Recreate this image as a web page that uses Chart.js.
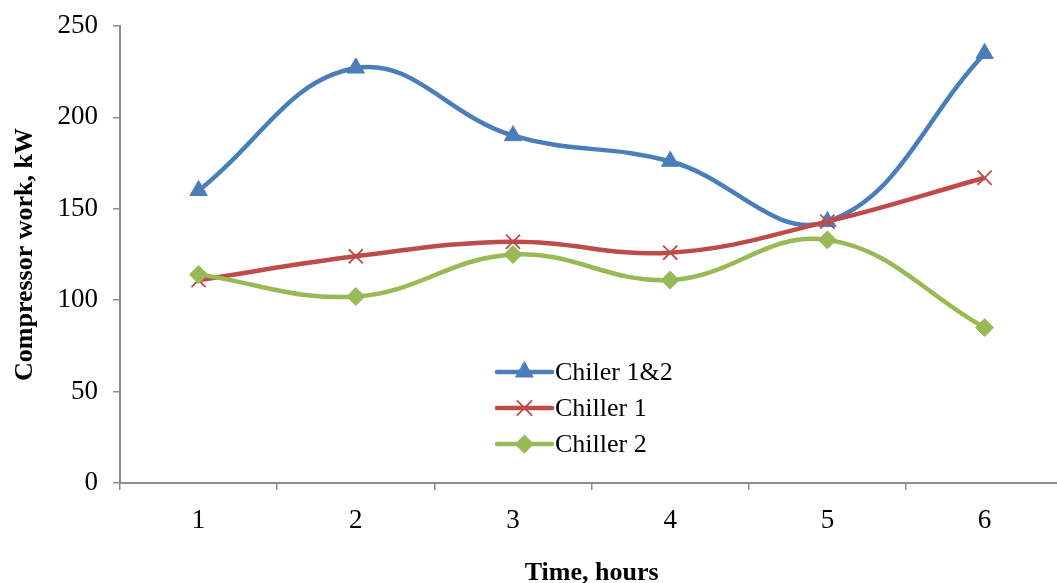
<!DOCTYPE html>
<html>
<head>
<meta charset="utf-8">
<script src="https://cdn.jsdelivr.net/npm/chart.js@4"></script>
<style>
  html, body { margin: 0; padding: 0; background: #fff; overflow: hidden; }
  #wrap { width: 1057px; height: 583px; overflow: hidden; position: relative; }
  #wrap canvas { position: absolute; left: 0; top: 0; }
</style>
</head>
<body>
<div id="wrap"><canvas id="chart" width="1075" height="583" style="width:1075px;height:583px"></canvas></div>
<script>
// categories (hours)
const hours = ["1", "2", "3", "4", "5", "6"]

// compressor work, kW
const chiller12 = [160, 227, 190, 176, 143, 235]
const chiller1 = [111, 124, 132, 126, 143, 167]
const chiller2 = [114, 102, 125, 111, 133, 85]

const seriesNames = ["Chiler 1&2", "Chiller 1", "Chiller 2"]

const blue = "#4A7EBB"
const red = "#BE4B48"
const green = "#98B954"
const axisColor = "#8C8C8C"
const serif = "'Liberation Serif', 'Times New Roman', serif"

// legend drawn inside the plot, like the original
const innerLegend = {
  id: "innerLegend",
  afterDatasetsDraw(chart) {
    const ctx = chart.ctx
    const x0 = 497, x1 = 552
    const rows = [372, 408, 444]
    chart.data.datasets.forEach((ds, i) => {
      const y = rows[i]
      ctx.save()
      ctx.strokeStyle = ds.borderColor
      ctx.lineWidth = ds.borderWidth
      ctx.lineCap = "round"
      ctx.beginPath()
      ctx.moveTo(x0, y)
      ctx.lineTo(x1, y)
      ctx.stroke()
      ctx.fillStyle = ds.pointBackgroundColor
      ctx.strokeStyle = ds.pointBorderColor
      ctx.lineWidth = ds.pointBorderWidth
      Chart.helpers.drawPoint(ctx, {
        pointStyle: ds.pointStyle,
        radius: ds.pointRadius,
        borderWidth: ds.pointBorderWidth,
        rotation: 0
      }, (x0 + x1) / 2, y)
      ctx.fillStyle = "#000"
      ctx.font = "26px " + serif
      ctx.textBaseline = "middle"
      ctx.textAlign = "left"
      ctx.fillText(ds.label, x1 + 3, y + 1)
      ctx.restore()
    })
  }
}

new Chart(document.getElementById("chart"), {
  type: "line",
  data: {
    labels: hours,
    datasets: [
      {
        label: seriesNames[0],
        data: chiller12,
        borderColor: blue,
        borderWidth: 4.5,
        tension: 0.4,
        pointStyle: "triangle",
        pointRadius: 10,
        pointBackgroundColor: blue,
        pointBorderColor: blue,
        pointBorderWidth: 1,
        order: 3,
        fill: false
      },
      {
        label: seriesNames[1],
        data: chiller1,
        borderColor: red,
        borderWidth: 4.5,
        tension: 0.4,
        pointStyle: "crossRot",
        pointRadius: 10,
        pointBackgroundColor: red,
        pointBorderColor: red,
        pointBorderWidth: 1.8,
        order: 2,
        fill: false
      },
      {
        label: seriesNames[2],
        data: chiller2,
        borderColor: green,
        borderWidth: 4.5,
        tension: 0.4,
        pointStyle: "rectRot",
        pointRadius: 9,
        pointBackgroundColor: green,
        pointBorderColor: green,
        pointBorderWidth: 1,
        order: 1,
        fill: false
      }
    ]
  },
  options: {
    responsive: false,
    animation: false,
    layout: { padding: { top: 26, right: 10, left: 0, bottom: 0 } },
    plugins: {
      legend: { display: false },
      tooltip: { enabled: false }
    },
    scales: {
      x: {
        offset: true,
        afterFit(scale) {
          scale.height = 100
          scale.paddingLeft = 0
          scale.paddingRight = 0
        },
        grid: {
          offset: true,
          drawOnChartArea: false,
          drawTicks: true,
          tickLength: 7,
          color: axisColor,
          lineWidth: 1.5
        },
        border: { color: axisColor, width: 2 },
        ticks: {
          color: "#000",
          font: { family: serif, size: 27 },
          padding: 15,
          maxRotation: 0
        },
        title: {
          display: true,
          text: "Time, hours",
          color: "#000",
          font: { family: serif, size: 26, weight: "bold", lineHeight: 1 },
          padding: { top: 0, bottom: -3 }
        }
      },
      y: {
        min: 0,
        max: 250,
        afterFit(scale) {
          scale.width = 120
          scale.paddingTop = 0
          scale.paddingBottom = 0
        },
        grid: {
          drawOnChartArea: false,
          drawTicks: true,
          tickLength: 7,
          color: axisColor,
          lineWidth: 1.5
        },
        border: { color: axisColor, width: 2 },
        ticks: {
          stepSize: 50,
          color: "#000",
          font: { family: serif, size: 27 },
          padding: 15
        },
        title: {
          display: true,
          text: "Compressor work, kW",
          color: "#000",
          font: { family: serif, size: 26, weight: "bold", lineHeight: 1 },
          padding: { top: 12, bottom: 0 }
        }
      }
    }
  },
  plugins: [innerLegend]
});
</script>
</body>
</html>
